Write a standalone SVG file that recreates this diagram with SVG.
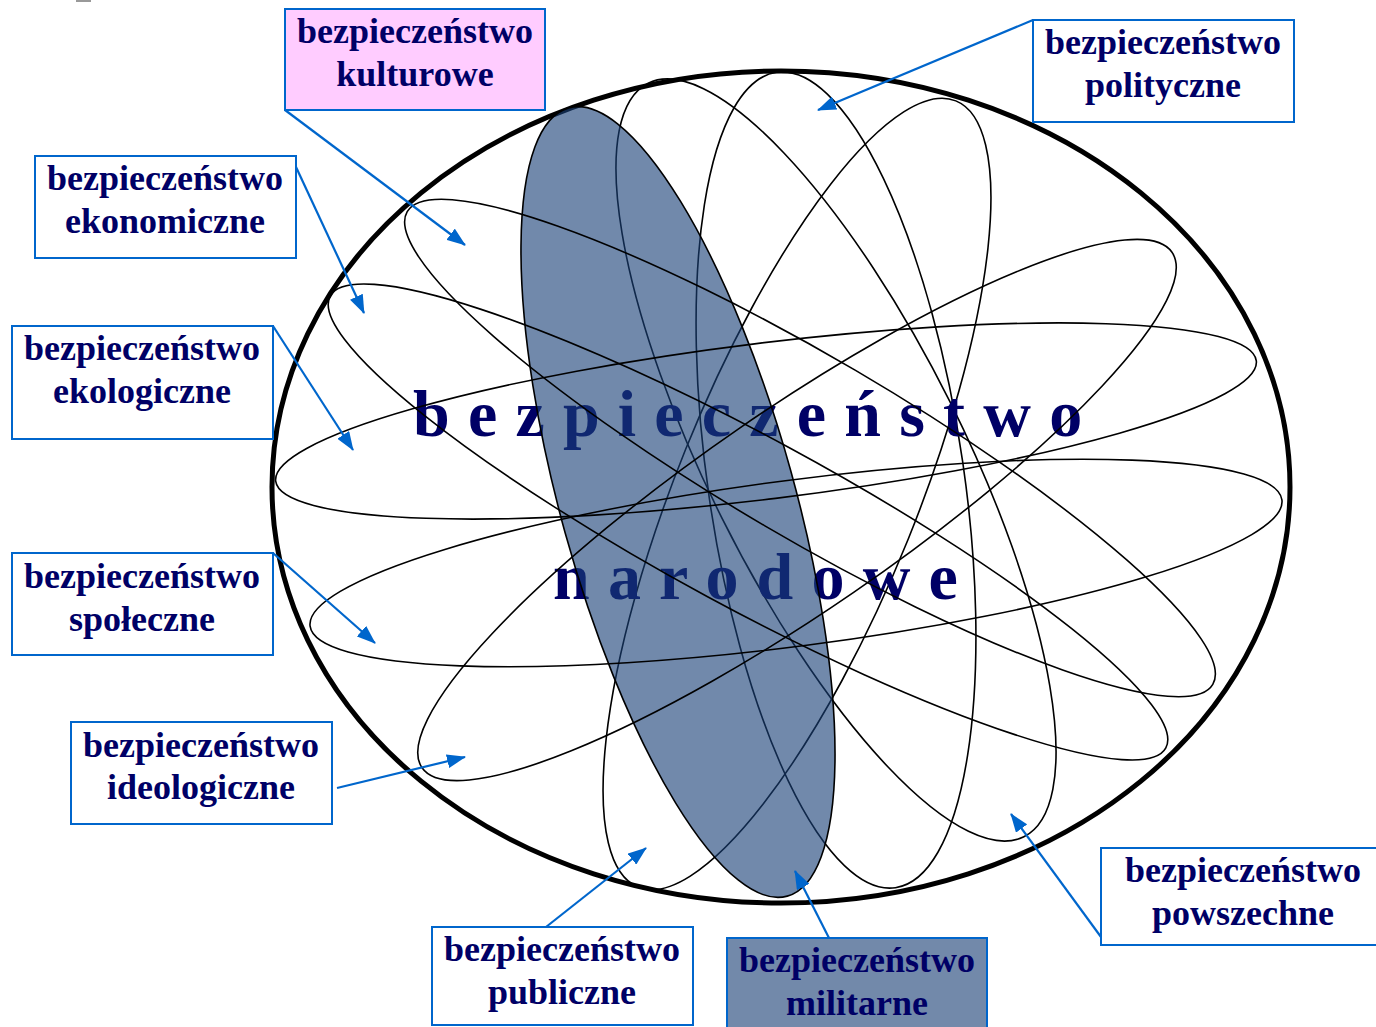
<svg xmlns="http://www.w3.org/2000/svg" width="1376" height="1027" viewBox="0 0 1376 1027">
<defs>
<style>
.orb{fill:none;stroke:#000;stroke-width:1.6}
.outer{fill:none;stroke:#000;stroke-width:5}
.box{fill:#fff;stroke:#0066CC;stroke-width:2}
.lbl{font-family:"Liberation Serif","Times New Roman",serif;font-weight:bold;font-size:36px;fill:#000066;text-anchor:middle}
.big{font-family:"Liberation Serif","Times New Roman",serif;font-weight:bold;font-size:66px;fill:#000066;letter-spacing:18.2px}
.con{fill:none;stroke:#0066CC;stroke-width:2.2}
</style>
<marker id="ah" markerUnits="userSpaceOnUse" markerWidth="19" markerHeight="14" refX="18" refY="7" orient="auto">
<path d="M0,0 L19,7 L0,14 z" fill="#0066CC"/>
</marker>
</defs>
<rect x="0" y="0" width="1376" height="1027" fill="#fff"/>
<rect x="76" y="0" width="15" height="2" fill="#999"/>
<g id="sphere">
<ellipse class="outer" cx="781" cy="487" rx="509" ry="416"/>
<ellipse class="orb" cx="836" cy="460" rx="421" ry="128" transform="rotate(63.5 836 460)"/>
<ellipse class="orb" cx="836" cy="480" rx="412" ry="128" transform="rotate(81.7 836 480)"/>
<ellipse class="orb" cx="797" cy="494" rx="424" ry="120" transform="rotate(-68 797 494)"/>
<text class="big" x="413" y="436">bezpieczeństwo</text>
<text class="big" x="553" y="599">narodowe</text>
<ellipse cx="678" cy="502" rx="409" ry="117" transform="rotate(74.5 678 502)" fill="#1A4177" fill-opacity="0.62" stroke="none"/>
<ellipse class="orb" cx="766" cy="421" rx="494" ry="78" transform="rotate(-7 766 421)"/>
<ellipse class="orb" cx="796" cy="563" rx="490" ry="83" transform="rotate(-7.4 796 563)"/>
<ellipse class="orb" cx="810" cy="448" rx="467" ry="90" transform="rotate(30.4 810 448)"/>
<ellipse class="orb" cx="748" cy="522" rx="475" ry="85" transform="rotate(28.4 748 522)"/>
<ellipse class="orb" cx="797" cy="510" rx="455" ry="100" transform="rotate(-34.5 797 510)"/>
<ellipse class="orb" cx="678" cy="502" rx="409" ry="117" transform="rotate(74.5 678 502)"/>
</g>
<g id="connectors">
<line class="con" x1="285" y1="110" x2="465" y2="245" marker-end="url(#ah)"/>
<line class="con" x1="1033" y1="20" x2="818" y2="110" marker-end="url(#ah)"/>
<line class="con" x1="296" y1="167" x2="364" y2="313" marker-end="url(#ah)"/>
<line class="con" x1="273" y1="326" x2="353" y2="450" marker-end="url(#ah)"/>
<line class="con" x1="273" y1="553" x2="375" y2="643" marker-end="url(#ah)"/>
<line class="con" x1="337" y1="788" x2="465" y2="757" marker-end="url(#ah)"/>
<line class="con" x1="546" y1="927" x2="646" y2="848" marker-end="url(#ah)"/>
<line class="con" x1="829" y1="938" x2="795" y2="871" marker-end="url(#ah)"/>
<line class="con" x1="1101" y1="937" x2="1011" y2="814" marker-end="url(#ah)"/>
</g>
<g id="kulturowe">
<rect class="box" x="285" y="9" width="260" height="101" style="fill:#FFCCFF"/>
<text class="lbl" x="415" y="43">bezpieczeństwo</text>
<text class="lbl" x="415" y="86">kulturowe</text>
</g>
<g id="polityczne">
<rect class="box" x="1033" y="20" width="261" height="102"/>
<text class="lbl" x="1163" y="54">bezpieczeństwo</text>
<text class="lbl" x="1163" y="97">polityczne</text>
</g>
<g id="ekonomiczne">
<rect class="box" x="35" y="156" width="261" height="102"/>
<text class="lbl" x="165" y="190">bezpieczeństwo</text>
<text class="lbl" x="165" y="233">ekonomiczne</text>
</g>
<g id="ekologiczne">
<rect class="box" x="12" y="326" width="261" height="113"/>
<text class="lbl" x="142" y="360">bezpieczeństwo</text>
<text class="lbl" x="142" y="403">ekologiczne</text>
</g>
<g id="spoleczne">
<rect class="box" x="12" y="553" width="261" height="102"/>
<text class="lbl" x="142" y="588">bezpieczeństwo</text>
<text class="lbl" x="142" y="631">społeczne</text>
</g>
<g id="ideologiczne">
<rect class="box" x="71" y="722" width="261" height="102"/>
<text class="lbl" x="201" y="757">bezpieczeństwo</text>
<text class="lbl" x="201" y="799">ideologiczne</text>
</g>
<g id="publiczne">
<rect class="box" x="432" y="927" width="261" height="98"/>
<text class="lbl" x="562" y="961">bezpieczeństwo</text>
<text class="lbl" x="562" y="1004">publiczne</text>
</g>
<g id="militarne">
<rect class="box" x="727" y="938" width="260" height="95" style="fill:#7289AA"/>
<text class="lbl" x="857" y="972">bezpieczeństwo</text>
<text class="lbl" x="857" y="1015">militarne</text>
</g>
<g id="powszechne">
<rect class="box" x="1101" y="848" width="285" height="97"/>
<text class="lbl" x="1243" y="882">bezpieczeństwo</text>
<text class="lbl" x="1243" y="925">powszechne</text>
</g>
</svg>
